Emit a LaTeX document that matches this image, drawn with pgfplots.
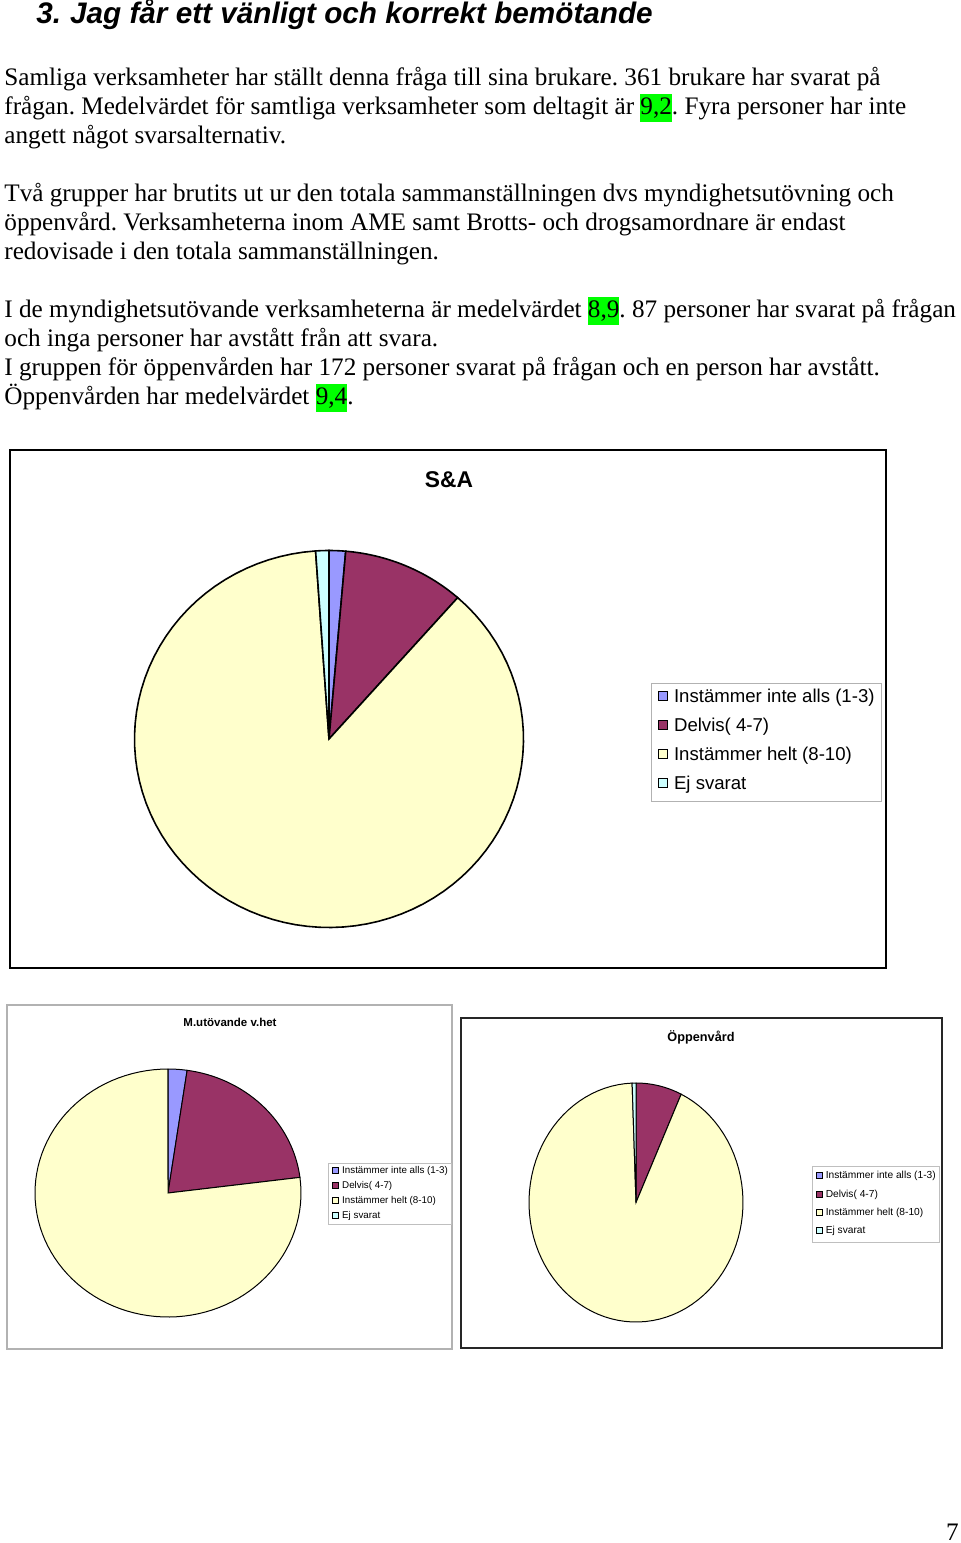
\documentclass[border=0pt]{standalone}
\usepackage{fontspec}
\setmainfont{Liberation Serif}
\newfontfamily\arial{Liberation Sans}
\usepackage{pgfplots}
\pgfplotsset{compat=1.18}
\definecolor{sablue}{HTML}{9999FF}
\definecolor{samaroon}{HTML}{993366}
\definecolor{sacream}{HTML}{FFFFCC}
\definecolor{sacyan}{HTML}{CCFFFF}
\definecolor{hlgreen}{HTML}{00FF00}
\frenchspacing
\newcommand{\hl}[1]{{\setlength{\fboxsep}{0pt}\colorbox{hlgreen}{\rule[-4pt]{0pt}{14pt}#1}}}
% slice between cumulative counts #2 and #3 (of total \tot), drawn clockwise from 12 o'clock
\newcommand{\slice}[3]{\addplot[draw=black, line width=\plw, fill=#1, domain={360*(#2)/\tot}:{360*(#3)/\tot}, samples=90, variable=\t] ({\cx+\rx*sin(\t)},{-\cy+\ry*cos(\t)}) -- (axis cs:\cx,-\cy) -- cycle;}
\pgfplotsset{
  frameax/.style={x=0.5pt, y=0.5pt, anchor=north west, xtick=\empty, ytick=\empty, clip=false,
    legend cell align=left},
}
\begin{document}
\begin{tikzpicture}[x=0.5pt, y=-0.5pt]
\path[use as bounding box] (0,0) rectangle (960,1543);
% title
\node[anchor=base west, inner sep=0pt] at (36,23) {\arial\bfseries\itshape\fontsize{14.85}{17}\selectfont 3.\hspace{4.5pt}Jag får ett vänligt och korrekt bemötande};
% body text
\begin{scope}[every node/.style={anchor=base west, inner sep=0pt, font=\fontsize{12.6}{15}\selectfont}]
\node at (4,85) {Samliga verksamheter har ställt denna fråga till sina brukare. 361 brukare har svarat på};
\node at (4,114) {frågan. Medelvärdet för samtliga verksamheter som deltagit är \hl{9,2}. Fyra personer har inte};
\node at (4,143) {angett något svarsalternativ.};
\node at (4,201) {Två grupper har brutits ut ur den totala sammanställningen dvs myndighetsutövning och};
\node at (4,230) {öppenvård. Verksamheterna inom AME samt Brotts- och drogsamordnare är endast};
\node at (4,259) {redovisade i den totala sammanställningen.};
\node at (4,317) {I de myndighetsutövande verksamheterna är medelvärdet \hl{8,9}. 87 personer har svarat på frågan};
\node at (4,346) {och inga personer har avstått från att svara.};
\node at (4,375) {I gruppen för öppenvården har 172 personer svarat på frågan och en person har avstått.};
\node at (4,404) {Öppenvården har medelvärdet \hl{9,4}.};
\node[anchor=base east] at (959,1540) {7};
\end{scope}
% chart titles
\node[inner sep=0pt] at (449,480) {\arial\bfseries\fontsize{11.4}{13}\selectfont S\&A};
\node[inner sep=0pt] at (230,1022) {\arial\bfseries\fontsize{5.75}{7}\selectfont M.utövande v.het};
\node[inner sep=0pt] at (701,1037) {\arial\bfseries\fontsize{6.35}{8}\selectfont Öppenvård};

% ---------------- S&A ----------------
\def\cx{329}\def\cy{739}\def\rx{194.5}\def\ry{188.5}\def\tot{365}\def\plw{0.8pt}
\begin{axis}[frameax, at={(5pt,-225pt)}, xmin=10, xmax=886, ymin=-968, ymax=-450,
  axis line style={draw=black, line width=1pt},
  legend style={at={(axis description cs:0.7317,0.5502)}, anchor=north west, draw=black!30, line width=0.5pt,
    font=\arial\fontsize{9.3}{11}\selectfont, inner xsep=3.5pt, inner ysep=0.5pt, row sep=0pt,
    nodes={inner sep=0pt, text height=9pt, text depth=5.5pt}},
  legend image code/.code={\draw[#1, draw=black, line width=0.4pt] (0pt,-0.75pt) rectangle (4.5pt,3.75pt);
    \path (7.2pt,0pt);}]
\slice{sablue}{0}{5}
\addlegendentry{Instämmer inte alls (1-3)}
\slice{samaroon}{5}{42}
\addlegendentry{Delvis( 4-7)}
\slice{sacream}{42}{361}
\addlegendentry{Instämmer helt (8-10)}
\slice{sacyan}{361}{365}
\addlegendentry{Ej svarat}
\end{axis}

% ---------------- M.utövande v.het ----------------
\def\cx{168}\def\cy{1193}\def\rx{133}\def\ry{124}\def\tot{87}\def\plw{0.5pt}
\begin{axis}[frameax, at={(3.5pt,-502.5pt)}, xmin=7, xmax=452, ymin=-1349, ymax=-1005,
  axis line style={draw=black!30, line width=0.6pt},
  legend style={at={(axis description cs:0.7213,0.5407)}, anchor=north west, draw=black!25, line width=0.4pt,
    font=\arial\fontsize{4.9}{6}\selectfont, inner xsep=2pt, inner ysep=0.3pt, row sep=0pt,
    nodes={inner sep=0pt, text height=4.8pt, text depth=2.7pt}},
  legend image code/.code={\draw[#1, draw=black, line width=0.3pt] (0pt,-0.9pt) rectangle (3pt,2.1pt);
    \path (4.5pt,0pt);}]
\slice{sablue}{0}{2}
\addlegendentry{Instämmer inte alls (1-3)}
\slice{samaroon}{2}{20}
\addlegendentry{Delvis( 4-7)}
\slice{sacream}{20}{87}
\addlegendentry{Instämmer helt (8-10)}
\addlegendimage{fill=sacyan}
\addlegendentry{Ej svarat}
\end{axis}

% ---------------- Öppenvård ----------------
\def\cx{636}\def\cy{1202.5}\def\rx{107}\def\ry{119.5}\def\tot{173}\def\plw{0.5pt}
\begin{axis}[frameax, at={(230.5pt,-509pt)}, xmin=461, xmax=942, ymin=-1348, ymax=-1018,
  axis line style={draw=black!85, line width=0.9pt},
  legend style={at={(axis description cs:0.7297,0.5515)}, anchor=north west, draw=black!25, line width=0.4pt,
    font=\arial\fontsize{5.1}{6}\selectfont, inner xsep=1.8pt, inner ysep=0.5pt, row sep=0pt,
    nodes={inner sep=0pt, text height=5.6pt, text depth=3.6pt}},
  legend image code/.code={\draw[#1, draw=black, line width=0.3pt] (0pt,-0.9pt) rectangle (3pt,2.1pt);
    \path (4.5pt,0pt);}]
\addlegendimage{fill=sablue}
\addlegendentry{Instämmer inte alls (1-3)}
\slice{samaroon}{0}{12}
\addlegendentry{Delvis( 4-7)}
\slice{sacream}{12}{172}
\addlegendentry{Instämmer helt (8-10)}
\slice{sacyan}{172}{173}
\addlegendentry{Ej svarat}
\end{axis}
\end{tikzpicture}
\end{document}
